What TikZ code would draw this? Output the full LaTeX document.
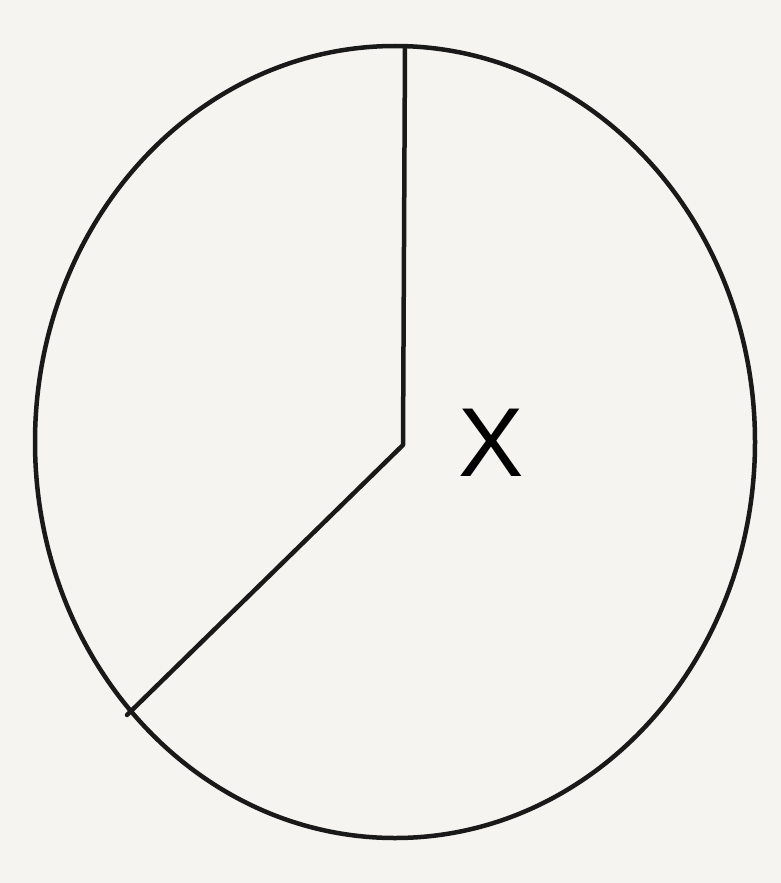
\documentclass[tikz,border=0pt]{standalone}
\usepackage{fontspec}
\setmainfont{Liberation Sans}
\definecolor{bg}{HTML}{F5F4F1}
\tikzset{stroke/.style={line width=4.5pt, draw=black!90, line join=round, line cap=round}}
\begin{document}
\begin{tikzpicture}[x=1pt,y=-1pt]
\fill[bg] (0,0) rectangle (781,883);
\useasboundingbox (0,0) rectangle (781,883);
\coordinate (c) at (395,442);
\draw[stroke] (c) ellipse [x radius=360, y radius=396];
\coordinate (top) at (405,47);
\coordinate (mid) at (403,445);
\coordinate (low) at (127,715);
\draw[stroke] (top) -- (mid) -- (low);
\node[font=\fontsize{98}{98}\selectfont, inner sep=0pt] (x) at (491,443) {X};
\end{tikzpicture}
\end{document}
